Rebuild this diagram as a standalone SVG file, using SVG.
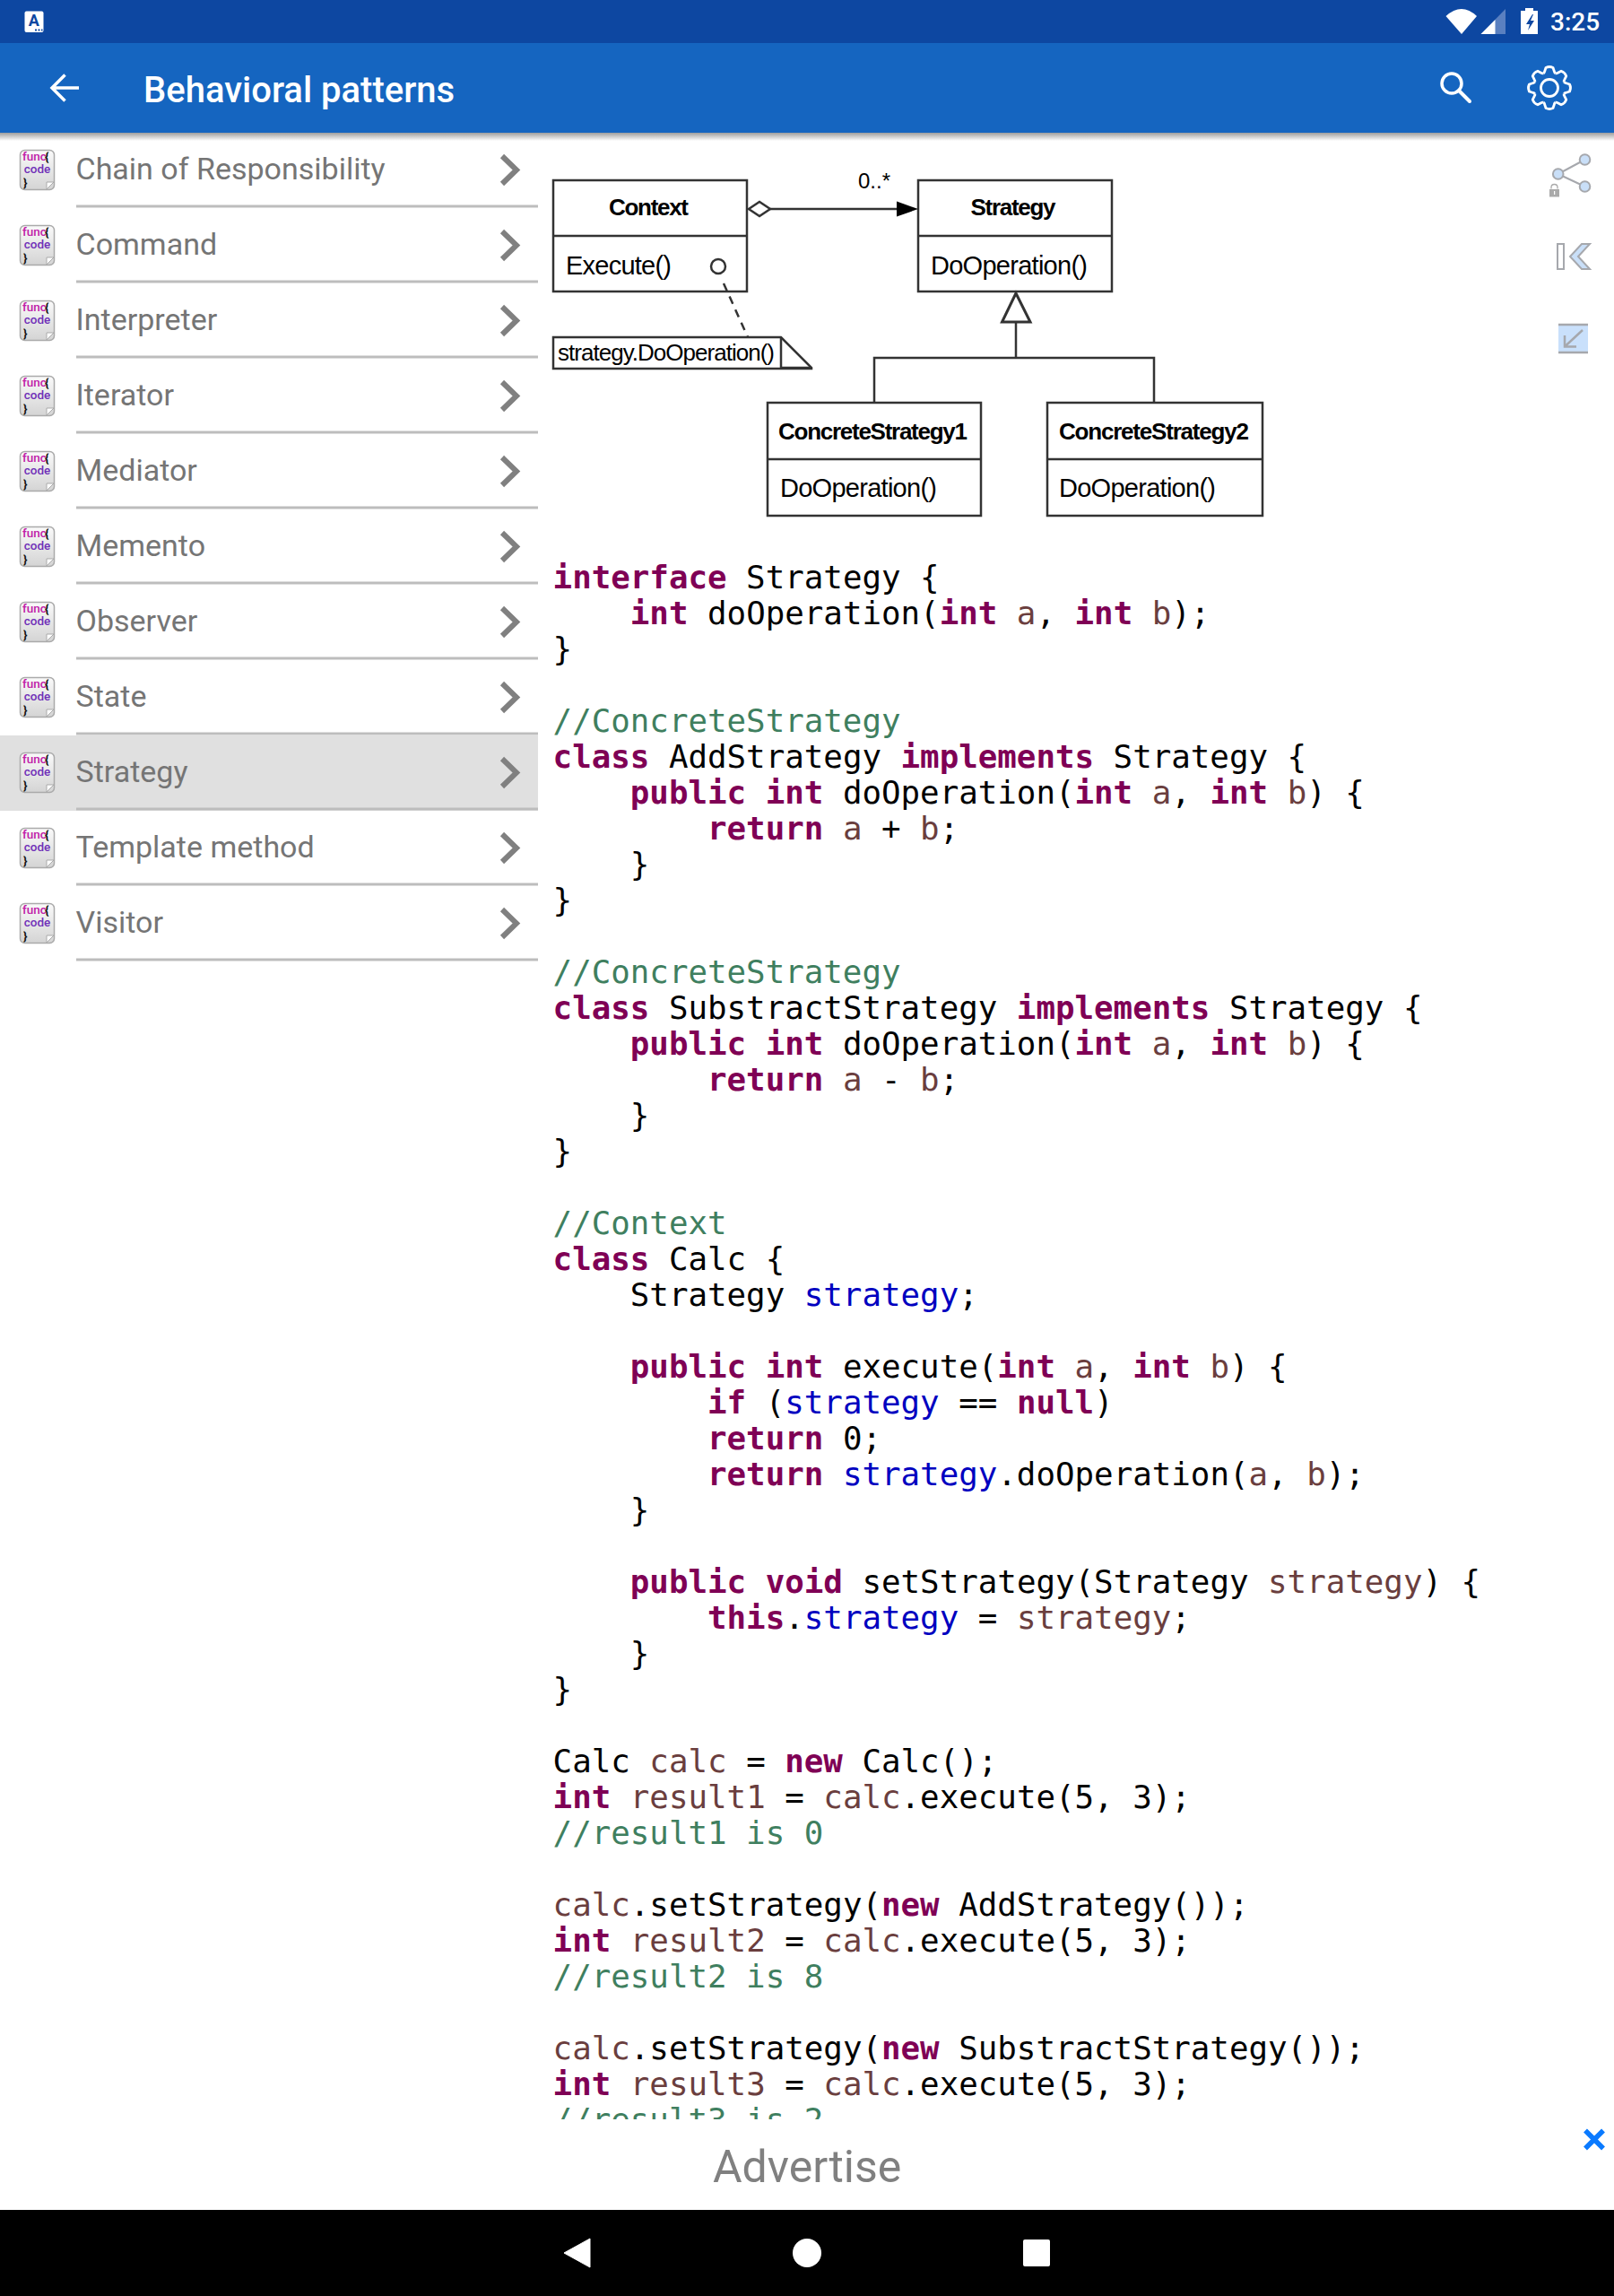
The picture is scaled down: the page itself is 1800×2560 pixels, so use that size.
<svg xmlns="http://www.w3.org/2000/svg" xmlns:xlink="http://www.w3.org/1999/xlink" width="1800" height="2560" viewBox="0 0 1800 2560">
<style>
.r{font-family:Roboto,"Liberation Sans",sans-serif}
.it{font-size:34px;fill:#757575}
.fn{font-size:13.500px;fill:#c020a8;font-weight:500}
.cd{font-size:13.500px;fill:#7030b8;text-anchor:middle;font-weight:500}
.br{font-size:13.500px;fill:#111;font-weight:700}
.ic{fill:url(#pg);stroke:#aaa;stroke-width:1.500}
.cv{fill:none;stroke:#808080;stroke-width:6}
.dv{stroke:#bdbdbd;stroke-width:3}
.u{font-family:"Liberation Sans",Arial,sans-serif;fill:#000}
.ub{font-size:26px;font-weight:700}
.um{font-size:29px}
.bx{fill:#fff;stroke:#333;stroke-width:2.500}
.ln{fill:none;stroke:#333;stroke-width:2.500}
.code{font-family:"DejaVu Sans Mono","Liberation Mono",monospace;font-size:35.8px;white-space:pre;fill:#000}
.k{fill:#7f0055;font-weight:700}.v{fill:#6a3e3e}.f{fill:#0000c0}.c{fill:#3f7f5f}
.ti{fill:#c9dff8;stroke:#a6a8ad;stroke-width:2}
</style>
<defs>
<linearGradient id="pg" x1="0" y1="0" x2="0" y2="1"><stop offset="0" stop-color="#fafafa"/><stop offset="1" stop-color="#d4d4d4"/></linearGradient>
<linearGradient id="sh" x1="0" y1="0" x2="0" y2="1"><stop offset="0" stop-color="#9e9e9e"/><stop offset="1" stop-color="#fff"/></linearGradient>
<path id="gs" d="M-6.700-16.200Q-5.500-17-5.500-18L-4-22.500Q0-24.500 4-22.500L5.500-18Q5.500-17 6.700-16.200" fill="none" stroke="#fff" stroke-width="2.800" stroke-linejoin="round"/>
</defs>
<rect width="1800" height="2560" fill="#fff"/>

<g id="code" transform="translate(-0.400,0.600)">
<text class="code" x="617" y="655"><tspan class="k">interface</tspan> Strategy {</text>
<text class="code" x="617" y="695">    <tspan class="k">int</tspan> doOperation(<tspan class="k">int</tspan> <tspan class="v">a</tspan>, <tspan class="k">int</tspan> <tspan class="v">b</tspan>);</text>
<text class="code" x="617" y="735">}</text>
<text class="code" x="617" y="815"><tspan class="c">//ConcreteStrategy</tspan></text>
<text class="code" x="617" y="855"><tspan class="k">class</tspan> AddStrategy <tspan class="k">implements</tspan> Strategy {</text>
<text class="code" x="617" y="895">    <tspan class="k">public</tspan> <tspan class="k">int</tspan> doOperation(<tspan class="k">int</tspan> <tspan class="v">a</tspan>, <tspan class="k">int</tspan> <tspan class="v">b</tspan>) {</text>
<text class="code" x="617" y="935">        <tspan class="k">return</tspan> <tspan class="v">a</tspan> + <tspan class="v">b</tspan>;</text>
<text class="code" x="617" y="975">    }</text>
<text class="code" x="617" y="1015">}</text>
<text class="code" x="617" y="1095"><tspan class="c">//ConcreteStrategy</tspan></text>
<text class="code" x="617" y="1135"><tspan class="k">class</tspan> SubstractStrategy <tspan class="k">implements</tspan> Strategy {</text>
<text class="code" x="617" y="1175">    <tspan class="k">public</tspan> <tspan class="k">int</tspan> doOperation(<tspan class="k">int</tspan> <tspan class="v">a</tspan>, <tspan class="k">int</tspan> <tspan class="v">b</tspan>) {</text>
<text class="code" x="617" y="1215">        <tspan class="k">return</tspan> <tspan class="v">a</tspan> - <tspan class="v">b</tspan>;</text>
<text class="code" x="617" y="1255">    }</text>
<text class="code" x="617" y="1295">}</text>
<text class="code" x="617" y="1375"><tspan class="c">//Context</tspan></text>
<text class="code" x="617" y="1415"><tspan class="k">class</tspan> Calc {</text>
<text class="code" x="617" y="1455">    Strategy <tspan class="f">strategy</tspan>;</text>
<text class="code" x="617" y="1535">    <tspan class="k">public</tspan> <tspan class="k">int</tspan> execute(<tspan class="k">int</tspan> <tspan class="v">a</tspan>, <tspan class="k">int</tspan> <tspan class="v">b</tspan>) {</text>
<text class="code" x="617" y="1575">        <tspan class="k">if</tspan> (<tspan class="f">strategy</tspan> == <tspan class="k">null</tspan>)</text>
<text class="code" x="617" y="1615">        <tspan class="k">return</tspan> 0;</text>
<text class="code" x="617" y="1655">        <tspan class="k">return</tspan> <tspan class="f">strategy</tspan>.doOperation(<tspan class="v">a</tspan>, <tspan class="v">b</tspan>);</text>
<text class="code" x="617" y="1695">    }</text>
<text class="code" x="617" y="1775">    <tspan class="k">public</tspan> <tspan class="k">void</tspan> setStrategy(Strategy <tspan class="v">strategy</tspan>) {</text>
<text class="code" x="617" y="1815">        <tspan class="k">this</tspan>.<tspan class="f">strategy</tspan> = <tspan class="v">strategy</tspan>;</text>
<text class="code" x="617" y="1855">    }</text>
<text class="code" x="617" y="1895">}</text>
<text class="code" x="617" y="1975">Calc <tspan class="v">calc</tspan> = <tspan class="k">new</tspan> Calc();</text>
<text class="code" x="617" y="2015"><tspan class="k">int</tspan> <tspan class="v">result1</tspan> = <tspan class="v">calc</tspan>.execute(5, 3);</text>
<text class="code" x="617" y="2055"><tspan class="c">//result1 is 0</tspan></text>
<text class="code" x="617" y="2135"><tspan class="v">calc</tspan>.setStrategy(<tspan class="k">new</tspan> AddStrategy());</text>
<text class="code" x="617" y="2175"><tspan class="k">int</tspan> <tspan class="v">result2</tspan> = <tspan class="v">calc</tspan>.execute(5, 3);</text>
<text class="code" x="617" y="2215"><tspan class="c">//result2 is 8</tspan></text>
<text class="code" x="617" y="2295"><tspan class="v">calc</tspan>.setStrategy(<tspan class="k">new</tspan> SubstractStrategy());</text>
<text class="code" x="617" y="2335"><tspan class="k">int</tspan> <tspan class="v">result3</tspan> = <tspan class="v">calc</tspan>.execute(5, 3);</text>
<text class="code" x="617" y="2375"><tspan class="c">//result3 is 2</tspan></text>
</g>

<g id="ad">
<rect x="0" y="2363" width="1800" height="101" fill="#fff"/>
<text class="r" x="795" y="2433" font-size="50" fill="#808080">Advertise</text>
<path d="M1768 2375.500L1788 2395.500M1788 2375.500L1768 2395.500" stroke="#0a7aff" stroke-width="5.500" fill="none"/>
</g>
<g id="navbar">
<rect x="0" y="2464" width="1800" height="96" fill="#000"/>
<path d="M658 2496V2528L629 2512Z" fill="#fff" stroke="#fff" stroke-width="1" stroke-linejoin="round"/>
<circle cx="900" cy="2512" r="16" fill="#fff"/>
<rect x="1141" y="2497" width="30" height="30" rx="2" fill="#fff"/>
</g>

<g id="list">
<rect x="0" y="820" width="600" height="84" fill="#e0e0e0"/>
<g id="row-chain"><rect class="ic" x="22.500" y="167.500" width="38" height="44" rx="5"/><path d="M60 203L52 211V203Z" fill="#fff" stroke="#aaa"/><text class="r fn" x="25" y="178.500">func</text><text class="r br" x="50" y="179">{</text><text class="r cd" x="41.500" y="193">code</text><text class="r br" x="26" y="207.500">}</text><text class="r it" x="84.500" y="200">Chain of Responsibility</text><path class="cv" d="M560 174L576 189.500L560 205"/><path class="dv" d="M85 230H600"/></g>
<g id="row-command" transform="translate(0,84)"><rect class="ic" x="22.500" y="167.500" width="38" height="44" rx="5"/><path d="M60 203L52 211V203Z" fill="#fff" stroke="#aaa"/><text class="r fn" x="25" y="178.500">func</text><text class="r br" x="50" y="179">{</text><text class="r cd" x="41.500" y="193">code</text><text class="r br" x="26" y="207.500">}</text><text class="r it" x="84.500" y="200">Command</text><path class="cv" d="M560 174L576 189.500L560 205"/><path class="dv" d="M85 230H600"/></g>
<g id="row-interpreter" transform="translate(0,168)"><rect class="ic" x="22.500" y="167.500" width="38" height="44" rx="5"/><path d="M60 203L52 211V203Z" fill="#fff" stroke="#aaa"/><text class="r fn" x="25" y="178.500">func</text><text class="r br" x="50" y="179">{</text><text class="r cd" x="41.500" y="193">code</text><text class="r br" x="26" y="207.500">}</text><text class="r it" x="84.500" y="200">Interpreter</text><path class="cv" d="M560 174L576 189.500L560 205"/><path class="dv" d="M85 230H600"/></g>
<g id="row-iterator" transform="translate(0,252)"><rect class="ic" x="22.500" y="167.500" width="38" height="44" rx="5"/><path d="M60 203L52 211V203Z" fill="#fff" stroke="#aaa"/><text class="r fn" x="25" y="178.500">func</text><text class="r br" x="50" y="179">{</text><text class="r cd" x="41.500" y="193">code</text><text class="r br" x="26" y="207.500">}</text><text class="r it" x="84.500" y="200">Iterator</text><path class="cv" d="M560 174L576 189.500L560 205"/><path class="dv" d="M85 230H600"/></g>
<g id="row-mediator" transform="translate(0,336)"><rect class="ic" x="22.500" y="167.500" width="38" height="44" rx="5"/><path d="M60 203L52 211V203Z" fill="#fff" stroke="#aaa"/><text class="r fn" x="25" y="178.500">func</text><text class="r br" x="50" y="179">{</text><text class="r cd" x="41.500" y="193">code</text><text class="r br" x="26" y="207.500">}</text><text class="r it" x="84.500" y="200">Mediator</text><path class="cv" d="M560 174L576 189.500L560 205"/><path class="dv" d="M85 230H600"/></g>
<g id="row-memento" transform="translate(0,420)"><rect class="ic" x="22.500" y="167.500" width="38" height="44" rx="5"/><path d="M60 203L52 211V203Z" fill="#fff" stroke="#aaa"/><text class="r fn" x="25" y="178.500">func</text><text class="r br" x="50" y="179">{</text><text class="r cd" x="41.500" y="193">code</text><text class="r br" x="26" y="207.500">}</text><text class="r it" x="84.500" y="200">Memento</text><path class="cv" d="M560 174L576 189.500L560 205"/><path class="dv" d="M85 230H600"/></g>
<g id="row-observer" transform="translate(0,504)"><rect class="ic" x="22.500" y="167.500" width="38" height="44" rx="5"/><path d="M60 203L52 211V203Z" fill="#fff" stroke="#aaa"/><text class="r fn" x="25" y="178.500">func</text><text class="r br" x="50" y="179">{</text><text class="r cd" x="41.500" y="193">code</text><text class="r br" x="26" y="207.500">}</text><text class="r it" x="84.500" y="200">Observer</text><path class="cv" d="M560 174L576 189.500L560 205"/><path class="dv" d="M85 230H600"/></g>
<g id="row-state" transform="translate(0,588)"><rect class="ic" x="22.500" y="167.500" width="38" height="44" rx="5"/><path d="M60 203L52 211V203Z" fill="#fff" stroke="#aaa"/><text class="r fn" x="25" y="178.500">func</text><text class="r br" x="50" y="179">{</text><text class="r cd" x="41.500" y="193">code</text><text class="r br" x="26" y="207.500">}</text><text class="r it" x="84.500" y="200">State</text><path class="cv" d="M560 174L576 189.500L560 205"/><path class="dv" d="M85 230H600"/></g>
<g id="row-strategy" transform="translate(0,672)"><rect class="ic" x="22.500" y="167.500" width="38" height="44" rx="5"/><path d="M60 203L52 211V203Z" fill="#fff" stroke="#aaa"/><text class="r fn" x="25" y="178.500">func</text><text class="r br" x="50" y="179">{</text><text class="r cd" x="41.500" y="193">code</text><text class="r br" x="26" y="207.500">}</text><text class="r it" x="84.500" y="200">Strategy</text><path class="cv" d="M560 174L576 189.500L560 205"/><path class="dv" d="M85 230H600"/></g>
<g id="row-template" transform="translate(0,756)"><rect class="ic" x="22.500" y="167.500" width="38" height="44" rx="5"/><path d="M60 203L52 211V203Z" fill="#fff" stroke="#aaa"/><text class="r fn" x="25" y="178.500">func</text><text class="r br" x="50" y="179">{</text><text class="r cd" x="41.500" y="193">code</text><text class="r br" x="26" y="207.500">}</text><text class="r it" x="84.500" y="200">Template method</text><path class="cv" d="M560 174L576 189.500L560 205"/><path class="dv" d="M85 230H600"/></g>
<g id="row-visitor" transform="translate(0,840)"><rect class="ic" x="22.500" y="167.500" width="38" height="44" rx="5"/><path d="M60 203L52 211V203Z" fill="#fff" stroke="#aaa"/><text class="r fn" x="25" y="178.500">func</text><text class="r br" x="50" y="179">{</text><text class="r cd" x="41.500" y="193">code</text><text class="r br" x="26" y="207.500">}</text><text class="r it" x="84.500" y="200">Visitor</text><path class="cv" d="M560 174L576 189.500L560 205"/><path class="dv" d="M85 230H600"/></g>
</g>

<g id="node-context"><rect class="bx" x="617" y="201" width="216" height="124"/><path class="ln" d="M617 263H833"/><text class="u ub" x="679" y="240" textLength="89">Context</text><text class="u um" x="631" y="305.500" textLength="118">Execute()</text><circle cx="801" cy="297" r="8" fill="none" stroke="#333" stroke-width="2.500"/></g>
<g id="node-strategy"><rect class="bx" x="1024" y="201" width="216" height="124"/><path class="ln" d="M1024 263H1240"/><text class="u ub" x="1082.500" y="240" textLength="95">Strategy</text><text class="u um" x="1038" y="305.500" textLength="175">DoOperation()</text></g>
<g id="node-concrete1"><rect class="bx" x="856" y="449" width="238" height="126"/><path class="ln" d="M856 512H1094"/><text class="u ub" x="868" y="490" textLength="211">ConcreteStrategy1</text><text class="u um" x="870" y="553.500" textLength="175">DoOperation()</text></g>
<g id="node-concrete2"><rect class="bx" x="1168" y="449" width="240" height="126"/><path class="ln" d="M1168 512H1408"/><text class="u ub" x="1181" y="490" textLength="212">ConcreteStrategy2</text><text class="u um" x="1181" y="553.500" textLength="175">DoOperation()</text></g>
<g id="node-note"><path class="bx" d="M617 376H871L905 410V411H617Z"/><path class="ln" d="M871 376V411M871 410H905"/><text class="u" font-size="26" x="622" y="402" textLength="242">strategy.DoOperation()</text></g>
<text id="multiplicity" class="u" font-size="24" x="957" y="210" textLength="36">0..*</text>

<g id="connectors">
<path class="ln" d="M859 233H1002"/>
<path d="M1000 224.500L1024 233L1000 241.500Z" fill="#000"/>
<path d="M835 233L847 225L859 233L847 241Z" fill="#fff" stroke="#333" stroke-width="2.500"/>
<path class="ln" d="M807 316L834 376" stroke-dasharray="9 7"/>
<path class="ln" d="M1133 359V399M975 449V399H1287V449"/>
<path d="M1133 327L1149 359H1117.500Z" fill="#fff" stroke="#333" stroke-width="3"/>
</g>

<g id="side-tools">
<g id="tool-share">
<path d="M1737.700 194L1767.500 178M1737.700 194L1767.500 208" stroke="#a6a8ad" stroke-width="2" fill="none"/>
<circle class="ti" cx="1767.500" cy="178" r="5.800"/><circle class="ti" cx="1737.700" cy="194" r="5.800"/><circle class="ti" cx="1767.500" cy="208" r="5.800"/>
<path d="M1730 210.500V209Q1730 205.500 1733.500 205.500Q1737 205.500 1737 209V210.500" fill="none" stroke="#aaa" stroke-width="1.300"/>
<rect x="1728" y="211" width="11" height="8.500" fill="#aaa"/>
<rect x="1733" y="213" width="1.200" height="4" fill="#fff"/>
</g>
<g id="tool-first">
<rect x="1737" y="272" width="7" height="28" fill="#fff" stroke="#a6a8ad" stroke-width="2"/>
<path class="ti" d="M1773 272H1764L1751 286L1764 300H1773L1760 286Z"/>
</g>
<g id="tool-collapse">
<rect x="1738" y="361" width="33" height="33" fill="#c9e0fb"/>
<path d="M1738 362H1771M1738 393H1771" stroke="#a6a8ad" stroke-width="2.500" fill="none"/>
<path d="M1765 368L1745 386.500M1745 374V386.500H1758" stroke="#a6a8ad" stroke-width="2.500" fill="none"/>
</g>
</g>

<g id="header">
<rect x="0" y="148" width="1800" height="9" fill="url(#sh)"/>
<rect x="0" y="0" width="1800" height="48" fill="#0d47a1"/>
<rect x="0" y="48" width="1800" height="100" fill="#1565c0"/>
<rect x="27.500" y="12.500" width="21" height="23.500" rx="2" fill="#fff"/>
<text x="37.800" y="29" font-family="Roboto,sans-serif" font-weight="700" font-size="18" fill="#0d47a1" text-anchor="middle">A</text>
<path d="M39 33.500H41M42.500 33.500H44.500M46 33.500H47.500" stroke="#0d47a1" stroke-width="2" fill="none"/>
<path d="M1612.500 18Q1630 2 1647 18L1630 38Z" fill="#fff"/>
<path d="M1651.500 38L1679 10V38Z" fill="#5a80c0"/>
<path d="M1651.500 38L1667.500 22V38Z" fill="#fff"/>
<path d="M1701 12V9H1710V12H1715V38H1696V12Z" fill="#fff"/>
<path d="M1709 16L1702 27H1706L1704 34L1711 23H1707L1710 16Z" fill="#0d47a1"/>
<text class="r" x="1729" y="34" font-size="28" font-weight="500" fill="#fff">3:25</text>
<path d="M88 98H59M72.500 83.500L58 98L72.500 112.500" fill="none" stroke="#fff" stroke-width="3.500"/>
<text class="r" x="160" y="114" font-size="40" font-weight="500" fill="#fff">Behavioral patterns</text>
<circle cx="1619" cy="93" r="11" fill="none" stroke="#fff" stroke-width="3.500"/>
<path d="M1627 101L1639 113" stroke="#fff" stroke-width="4" stroke-linecap="round"/>
<g id="gear" transform="translate(1728,98)">
<circle r="9.500" fill="none" stroke="#fff" stroke-width="2.800"/>
<use xlink:href="#gs" href="#gs"/>
<use xlink:href="#gs" href="#gs" transform="rotate(45)"/>
<use xlink:href="#gs" href="#gs" transform="rotate(90)"/>
<use xlink:href="#gs" href="#gs" transform="rotate(135)"/>
<use xlink:href="#gs" href="#gs" transform="rotate(180)"/>
<use xlink:href="#gs" href="#gs" transform="rotate(225)"/>
<use xlink:href="#gs" href="#gs" transform="rotate(270)"/>
<use xlink:href="#gs" href="#gs" transform="rotate(315)"/>
</g>
</g>
</svg>
